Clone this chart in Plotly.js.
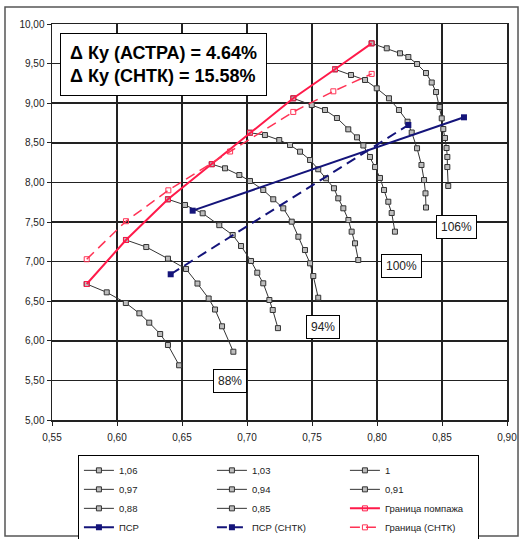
<!DOCTYPE html>
<html><head><meta charset="utf-8">
<script src="https://cdn.plot.ly/plotly-3.0.1.min.js"></script>
<style>html,body{margin:0;padding:0;background:#fff;}#chart{width:523px;height:539px;}</style>
</head><body><div id="chart"></div>
<script>
// ---- data ----
const speedNames = ['1,06','1,03','1','0,97','0,94','0,91','0,88','0,85'];
const x106 = [0.7959,0.8075,0.8177,0.8241,0.8308,0.8377,0.8421,0.8454,0.8481,0.8498,0.8510,0.8523,0.8535,0.8541,0.8541,0.8548];
const y106 = [9.756,9.693,9.630,9.583,9.495,9.381,9.261,9.141,8.952,8.809,8.674,8.561,8.434,8.321,8.194,7.955];
const x103 = [0.7677,0.7800,0.7908,0.7998,0.8092,0.8169,0.8235,0.8267,0.8308,0.8342,0.8362,0.8373,0.8377];
const y103 = [9.428,9.356,9.293,9.188,9.062,8.914,8.766,8.630,8.431,8.220,8.030,7.862,7.683];
const x100 = [0.7356,0.7498,0.7600,0.7692,0.7779,0.7846,0.7895,0.7946,0.7985,0.8023,0.8054,0.8087,0.8113,0.8138];
const y100 = [9.062,8.977,8.914,8.813,8.670,8.569,8.466,8.321,8.194,8.056,7.904,7.756,7.614,7.378];
const x097 = [0.7023,0.7138,0.7248,0.7331,0.7408,0.7485,0.7548,0.7608,0.7669,0.7702,0.7741,0.7780,0.7805,0.7831,0.7856];
const y097 = [8.627,8.598,8.535,8.472,8.388,8.283,8.166,8.052,7.926,7.799,7.673,7.525,7.378,7.231,7.020];
const x094 = [0.6729,0.6831,0.6941,0.7023,0.7125,0.7202,0.7279,0.7344,0.7395,0.7446,0.7485,0.7510,0.7548];
const y094 = [8.230,8.178,8.093,8.018,7.904,7.787,7.673,7.504,7.314,7.146,6.978,6.818,6.544];
const x091 = [0.6392,0.6523,0.6659,0.6787,0.6890,0.6954,0.7031,0.7079,0.7125,0.7172,0.7198,0.7238];
const y091 = [7.787,7.715,7.610,7.460,7.336,7.197,7.008,6.860,6.726,6.515,6.389,6.160];
const x088 = [0.6069,0.6225,0.6392,0.6531,0.6619,0.6705,0.6754,0.6808,0.6895];
const y088 = [7.273,7.184,7.037,6.907,6.723,6.534,6.395,6.183,5.862];
const x085 = [0.5767,0.5921,0.6068,0.6172,0.6248,0.6332,0.6392,0.6478];
const y085 = [6.717,6.612,6.477,6.347,6.229,6.086,5.947,5.691];

const surgeName = 'Граница помпажа';
const surgeX = [0.5767,0.6069,0.6392,0.6729,0.7023,0.7356,0.7677,0.7959];
const surgeY = [6.717,7.273,7.787,8.230,8.627,9.062,9.428,9.756];
const surgeSntkName = 'Граница (СНТК)';
const surgeSntkX = [0.5767,0.6069,0.6395,0.6870,0.7356,0.7664,0.7959];
const surgeSntkY = [7.03,7.51,7.90,8.39,8.89,9.15,9.37];
const psrName = 'ПСР';
const psrX = [0.6582,0.8669];
const psrY = [7.643,8.822];
const psrSntkName = 'ПСР (СНТК)';
const psrSntkX = [0.6413,0.8241];
const psrSntkY = [6.84,8.725];

const pctText = ['88%','94%','100%','106%'];
const pctX = [0.6869,0.7582,0.8192,0.8608];
const pctY = [5.49,6.18,6.94,7.44];
const deltaLines = ['Δ Ку (АСТРА) = 4.64%','Δ Ку (СНТК) = 15.58%'];

// ---- build ----
const speedX = [x106,x103,x100,x097,x094,x091,x088,x085];
const speedY = [y106,y103,y100,y097,y094,y091,y088,y085];
const traces = [];
speedNames.forEach((n,i)=>{
  traces.push({x:speedX[i], y:speedY[i], name:n, type:'scatter', mode:'lines+markers',
    legendrank:i+1,
    line:{color:'#333',width:1},
    marker:{symbol:'square',size:5,color:'#bdbdbd',line:{color:'#333',width:1}}});
});
traces.push({x:psrX,y:psrY,name:psrName,type:'scatter',mode:'lines+markers',legendrank:10,
  line:{color:'#14147a',width:2},marker:{symbol:'square',size:6,color:'#14147a'}});
traces.push({x:psrSntkX,y:psrSntkY,name:psrSntkName,type:'scatter',mode:'lines+markers',legendrank:11,
  line:{color:'#14147a',width:2,dash:'10px,6px'},marker:{symbol:'square',size:6,color:'#14147a'}});
traces.push({x:surgeX,y:surgeY,name:surgeName,type:'scatter',mode:'lines+markers',legendrank:9,
  line:{color:'#ff1a4a',width:2},marker:{symbol:'square-open',size:5,color:'#ff1a4a',line:{width:1}}});
traces.push({x:surgeSntkX,y:surgeSntkY,name:surgeSntkName,type:'scatter',mode:'lines+markers',legendrank:12,
  line:{color:'#ff3355',width:1.5,dash:'10px,6px'},marker:{symbol:'square-open',size:5,color:'#ff3355',line:{width:1}}});

const annotations = pctText.map((t,i)=>({x:pctX[i],y:pctY[i],xref:'x',yref:'y',text:t,showarrow:false,
  font:{family:'Arial, Liberation Sans',size:12,color:'#222'},bgcolor:'#fff',bordercolor:'#000',borderwidth:1,borderpad:4}));
annotations.push({x:0.0176,y:0.977,xref:'paper',yref:'paper',xanchor:'left',yanchor:'top',
  text:'<b>'+deltaLines.join('<br>')+'</b>',align:'left',showarrow:false,
  font:{family:'Arial, Liberation Sans',size:18,color:'#000'},bgcolor:'#fff',bordercolor:'#000',borderwidth:1,borderpad:9});

const axisCommon = {showgrid:true,gridcolor:'#222',gridwidth:1.5,zeroline:false,showline:true,linecolor:'#222',linewidth:1.5,
  mirror:true,ticks:'outside',ticklen:4,tickcolor:'#222',tickformat:'.2f',
  tickfont:{family:'Arial, Liberation Sans',size:10,color:'#222'}};

const layout = {
  width:523,height:539,
  margin:{l:52,r:16,t:24,b:119,autoexpand:false},
  separators:', ',
  paper_bgcolor:'#fff',plot_bgcolor:'#fff',
  xaxis:Object.assign({},axisCommon,{range:[0.55,0.90],dtick:0.05,tick0:0.55,ticklabelstandoff:3}),
  yaxis:Object.assign({},axisCommon,{range:[5,10],dtick:0.5,tick0:5}),
  showlegend:true,
  legend:{orientation:'h',x:0.057,xanchor:'left',y:-0.088,yanchor:'top',entrywidth:88,
    bordercolor:'#000',borderwidth:1,bgcolor:'#fff',
    font:{family:'Arial, Liberation Sans',size:9.5,color:'#222'}},
  annotations:annotations,
  shapes:[{type:'rect',xref:'paper',yref:'paper',x0:-0.1033,x1:1.0242,y0:-0.2929,y1:1.0429,
    line:{color:'#555',width:1.5},layer:'below'}]
};
Plotly.newPlot('chart',traces,layout,{staticPlot:true,displayModeBar:false});
</script></body></html>
